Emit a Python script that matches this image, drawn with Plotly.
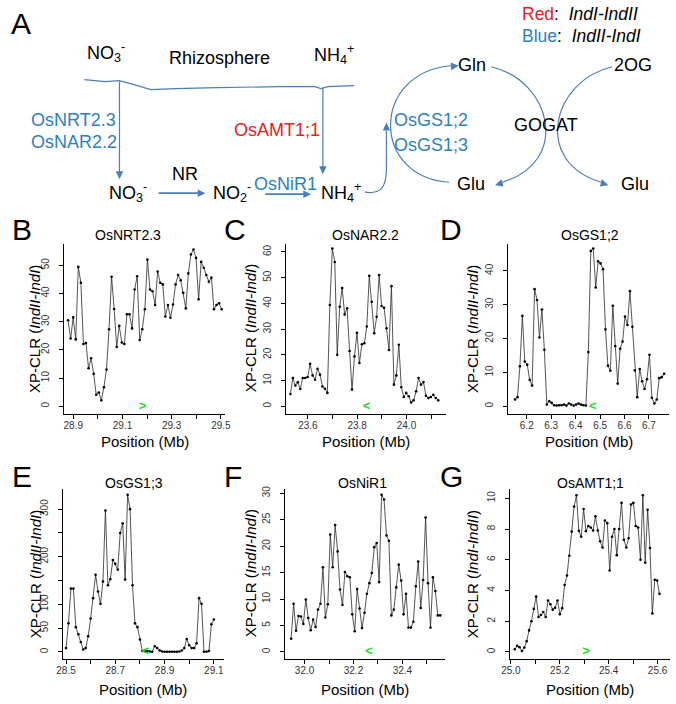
import plotly.graph_objects as go

W, H = 676, 704
FONT = "Liberation Sans, Arial, sans-serif"

# ---------------- data ----------------
B_title = "OsNRT2.3"
B_x_start, B_x_step = 28.879, 0.0104
B_y = [30.5, 24.0, 31.5, 23.7, 49.4, 43.8, 22.1, 22.4, 13.5, 17.0, 11.5, 4.1, 4.9, 2.1, 6.7,
       13.0, 27.3, 45.9, 34.5, 21.0, 28.5, 22.6, 22.1, 32.6, 32.6, 27.6, 41.4, 46.1, 23.5, 27.3,
       34.4, 52.0, 41.4, 40.8, 35.9, 47.8, 43.8, 43.2, 31.8, 35.9, 31.4, 36.1, 43.2, 46.5, 44.7,
       40.2, 34.7, 47.1, 53.8, 55.6, 52.6, 37.9, 51.2, 49.1, 46.5, 44.1, 45.6, 34.4, 35.9, 36.5, 34.4]
B_gene_pos, B_gene_mark = 29.182, ">"
B_xticks = [28.9, 29.0, 29.1, 29.2, 29.3, 29.4, 29.5]
B_xticklabels = ["28.9", "", "29.1", "", "29.3", "", "29.5"]
B_yticks = [0, 10, 20, 30, 40, 50]
B_yticklabels = ["0", "10", "20", "30", "40", "50"]

C_title = "OsNAR2.2"
C_x_start, C_x_step = 23.529, 0.01
C_y = [4.8, 11.0, 8.1, 9.3, 6.7, 11.0, 11.0, 11.4, 16.5, 12.0, 10.3, 14.6, 12.3, 7.7, 6.8, 5.2,
       39.4, 61.3, 56.1, 20.0, 38.7, 46.0, 35.7, 38.1, 21.5, 6.5, 19.4, 28.6, 16.8, 24.1, 24.5,
       31.0, 50.7, 40.6, 28.4, 34.8, 51.0, 39.0, 38.3, 30.3, 21.9, 46.7, 8.4, 12.0, 23.9, 7.4,
       3.6, 5.2, 3.9, 1.5, 2.3, 5.8, 11.0, 8.4, 9.4, 4.1, 3.2, 3.6, 4.5, 3.2, 2.3]
C_gene_pos, C_gene_mark = 23.838, "<"
C_xticks = [23.6, 23.7, 23.8, 23.9, 24.0, 24.1]
C_xticklabels = ["23.6", "", "23.8", "", "24.0", ""]
C_yticks = [0, 10, 20, 30, 40, 50, 60]
C_yticklabels = ["0", "10", "20", "30", "40", "50", "60"]

D_title = "OsGS1;2"
D_x_start, D_x_step = 6.152, 0.01
D_y = [2.0, 2.7, 11.8, 26.7, 13.2, 12.3, 7.8, 6.1, 34.6, 31.4, 20.3, 28.6, 16.7, 0.5, 1.5, 1.0,
       0.3, 0.2, 0.3, 0.3, 0.5, 0.2, 0.8, 0.5, 0.2, 0.5, 0.8, 0.5, 0.3, 0.2, 16.0, 45.9, 46.6,
       35.1, 42.8, 42.2, 40.5, 22.7, 12.0, 10.5, 29.7, 17.8, 6.7, 17.0, 19.1, 26.5, 24.0, 34.0,
       23.5, 10.6, 2.7, 11.0, 7.4, 5.1, 8.0, 15.2, 2.5, 0.8, 2.0, 8.3, 8.6, 9.6]
D_gene_pos, D_gene_mark = 6.47, "<"
D_xticks = [6.2, 6.3, 6.4, 6.5, 6.6, 6.7]
D_xticklabels = ["6.2", "6.3", "6.4", "6.5", "6.6", "6.7"]
D_yticks = [0, 10, 20, 30, 40]
D_yticklabels = ["0", "10", "20", "30", "40"]

E_title = "OsGS1;3"
E_x_start, E_x_step = 28.5, 0.01
E_y = [8, 60, 133, 133, 52, 37, 21, 5, 8, 33, 70, 113, 162, 127, 101, 148, 297, 140, 153, 193,
       185, 173, 250, 270, 152, 330, 300, 140, 60, 52, 26, 2, 1, 2, 1, 0.5, 12, 8, 3, 1,
       0.5, 0.3, 0.3, 0.3, 0.3, 0.5, 1, 3, 8, 27, 14, 8, 8, 18, 113, 101, 0.5, 0.5, 2, 58, 68]
E_gene_pos, E_gene_mark = 28.822, "<"
E_xticks = [28.5, 28.6, 28.7, 28.8, 28.9, 29.0, 29.1]
E_xticklabels = ["28.5", "", "28.7", "", "28.9", "", "29.1"]
E_yticks = [0, 50, 100, 150, 200, 250, 300]
E_yticklabels = ["0", "50", "100", "", "200", "", "300"]

F_title = "OsNiR1"
F_x_start, F_x_step = 31.945, 0.01
F_y = [2.5, 9.1, 4.0, 6.8, 6.7, 5.3, 9.9, 6.4, 4.1, 6.1, 4.7, 8.0, 9.1, 16.0, 6.5, 9.0, 22.2,
       16.0, 24.0, 19.0, 11.8, 8.9, 15.1, 14.3, 14.1, 7.1, 3.9, 11.9, 8.2, 4.5, 7.4, 11.0, 13.0,
       14.9, 19.8, 20.6, 13.2, 29.7, 28.8, 22.0, 21.0, 6.9, 8.0, 12.2, 16.5, 13.5, 7.1, 11.0,
       4.6, 4.6, 5.7, 12.4, 17.1, 8.3, 13.6, 25.4, 13.0, 4.6, 14.1, 11.5, 6.9, 6.9]
F_gene_pos, F_gene_mark = 32.263, "<"
F_xticks = [32.0, 32.1, 32.2, 32.3, 32.4, 32.5]
F_xticklabels = ["32.0", "", "32.2", "", "32.4", ""]
F_yticks = [0, 5, 10, 15, 20, 25, 30]
F_yticklabels = ["0", "5", "10", "15", "20", "25", "30"]

G_title = "OsAMT1;1"
G_x_start, G_x_step = 25.016, 0.0097
G_y = [0.17, 0.4, 0.3, 0.06, 0.28, 0.7, 1.4, 2.0, 2.8, 3.6, 2.27, 2.4, 2.6, 2.27, 3.35, 3.1,
       2.75, 2.87, 3.35, 2.45, 2.85, 4.36, 4.97, 6.26, 7.84, 9.46, 10.2, 7.88, 7.5, 9.3, 7.86,
       8.2, 8.1, 7.9, 8.83, 7.9, 7.2, 6.8, 8.55, 8.38, 5.3, 7.5, 8.0, 6.3, 8.0, 9.7, 7.3, 6.8,
       7.4, 9.6, 9.7, 8.2, 8.1, 6.0, 10.2, 5.8, 9.25, 6.76, 2.5, 4.7, 4.65, 3.78]
G_gene_pos, G_gene_mark = 25.307, ">"
G_xticks = [25.0, 25.1, 25.2, 25.3, 25.4, 25.5, 25.6]
G_xticklabels = ["25.0", "", "25.2", "", "25.4", "", "25.6"]
G_yticks = [0, 2, 4, 6, 8, 10]
G_yticklabels = ["0", "2", "4", "6", "8", "10"]

YLAB_21 = "XP-CLR (<i>IndII-IndI</i>)"
YLAB_12 = "XP-CLR (<i>IndI-IndII</i>)"
XLAB = "Position (Mb)"

# ---------------- layout geometry (pixels) ----------------
panels = [
    dict(letter="B", title=B_title, start=B_x_start, step=B_x_step, y=B_y, gpos=B_gene_pos, gmark=B_gene_mark,
         xt=B_xticks, xl=B_xticklabels, yt=B_yticks, yl=B_yticklabels, ylab=YLAB_21,
         l=56.7, r=221.0, t=241.7, b=412.3, xref=(28.9, 65.7), xs=251.7, y0=405.0, ys=2.833,
         tpos=(122, 233), lpos=(13, 227), ylx=26),
    dict(letter="C", title=C_title, start=C_x_start, step=C_x_step, y=C_y, gpos=C_gene_pos, gmark=C_gene_mark,
         xt=C_xticks, xl=C_xticklabels, yt=C_yticks, yl=C_yticklabels, ylab=YLAB_21,
         l=283.3, r=447.0, t=241.7, b=412.3, xref=(23.6, 305.7), xs=252.0, y0=405.0, ys=2.583,
         tpos=(365, 233), lpos=(231, 227), ylx=247),
    dict(letter="D", title=D_title, start=D_x_start, step=D_x_step, y=D_y, gpos=D_gene_pos, gmark=D_gene_mark,
         xt=D_xticks, xl=D_xticklabels, yt=D_yticks, yl=D_yticklabels, ylab=YLAB_21,
         l=510.7, r=675.0, t=241.7, b=412.3, xref=(6.2, 529.5), xs=250.0, y0=405.0, ys=3.4,
         tpos=(594, 233), lpos=(452, 227), ylx=474),
    dict(letter="E", title=E_title, start=E_x_start, step=E_x_step, y=E_y, gpos=E_gene_pos, gmark=E_gene_mark,
         xt=E_xticks, xl=E_xticklabels, yt=E_yticks, yl=E_yticklabels, ylab=YLAB_21,
         l=55.5, r=219.5, t=488.0, b=658.5, xref=(28.5, 58.3), xs=252.0, y0=651.7, ys=0.478,
         tpos=(128, 482), lpos=(13, 476), ylx=27),
    dict(letter="F", title=F_title, start=F_x_start, step=F_x_step, y=F_y, gpos=F_gene_pos, gmark=F_gene_mark,
         xt=F_xticks, xl=F_xticklabels, yt=F_yticks, yl=F_yticklabels, ylab=YLAB_21,
         l=282.3, r=446.3, t=488.0, b=658.5, xref=(32.0, 302.3), xs=250.0, y0=651.7, ys=5.313,
         tpos=(362, 482), lpos=(229, 476), ylx=247),
    dict(letter="G", title=G_title, start=G_x_start, step=G_x_step, y=G_y, gpos=G_gene_pos, gmark=G_gene_mark,
         xt=G_xticks, xl=G_xticklabels, yt=G_yticks, yl=G_yticklabels, ylab=YLAB_12,
         l=512.3, r=675.5, t=488.0, b=658.5, xref=(25.0, 513.3), xs=250.0, y0=651.7, ys=15.43,
         tpos=(595, 482), lpos=(453, 476), ylx=474),
]

fig = go.Figure()
annotations = []
shapes = []


def T(text, x, y, size=17, color="black", xanchor="center", yanchor="middle", angle=0):
    annotations.append(dict(text=text, x=x / W, y=1 - y / H, xref="paper", yref="paper",
                            showarrow=False, xanchor=xanchor, yanchor=yanchor, textangle=angle,
                            font=dict(family=FONT, size=size, color=color)))


layout_axes = {}
for i, p in enumerate(panels, start=1):
    xa = "x" if i == 1 else f"x{i}"
    ya = "y" if i == 1 else f"y{i}"
    xv = [round(p["start"] + k * p["step"], 4) for k in range(len(p["y"]))]
    fig.add_trace(go.Scatter(x=xv, y=p["y"], mode="lines+markers", xaxis=xa, yaxis=ya,
                             line=dict(color="#2a2a2a", width=0.8),
                             marker=dict(size=2.6, color="black"),
                             showlegend=False, hoverinfo="skip", cliponaxis=False))
    fig.add_trace(go.Scatter(x=[p["gpos"]], y=[0], mode="text", text=[p["gmark"]],
                             textposition="middle center", xaxis=xa, yaxis=ya,
                             textfont=dict(family=FONT, size=13, color="#22dd22", weight="bold"),
                             showlegend=False, hoverinfo="skip", cliponaxis=False))
    xr0 = p["xref"][0] + (p["l"] - p["xref"][1]) / p["xs"]
    xr1 = p["xref"][0] + (p["r"] - p["xref"][1]) / p["xs"]
    yr0 = (p["y0"] - p["b"]) / p["ys"]
    yr1 = (p["y0"] - p["t"]) / p["ys"]
    common = dict(showline=True, linecolor="black", linewidth=1, ticks="outside", ticklen=4,
                  tickwidth=1, tickcolor="black", showgrid=False, zeroline=False,
                  tickfont=dict(family=FONT, size=10, color="#333333"), fixedrange=True,
                  tickmode="array")
    layout_axes["xaxis" if i == 1 else f"xaxis{i}"] = dict(
        domain=[p["l"] / W, p["r"] / W], range=[xr0, xr1], anchor=ya,
        tickvals=p["xt"], ticktext=p["xl"], ticklabelstandoff=-2, **common)
    layout_axes["yaxis" if i == 1 else f"yaxis{i}"] = dict(
        domain=[1 - p["b"] / H, 1 - p["t"] / H], range=[yr0, yr1], anchor=xa,
        tickvals=p["yt"], ticktext=p["yl"], tickangle=-90, ticklabelstandoff=6, **common)
    # texts
    T(p["title"], p["tpos"][0], p["tpos"][1], size=14)
    T(p["letter"], p["lpos"][0], p["lpos"][1], size=30)
    T(p["ylab"], p["ylx"], (p["t"] + p["b"]) / 2, size=15, angle=-90)
    T(XLAB, (p["l"] + p["r"]) / 2, p["b"] + (28 if p["b"] < 500 else 31), size=15)

# ---------------- panel A diagram ----------------
LINE = "#4a7ebb"
BLUE = "#2e7fc1"
RED = "#e8211c"


def P(x, y):
    return f"{x / W:.5f},{1 - y / H:.5f}"


def add_path(d, width=1.2):
    shapes.append(dict(type="path", xref="paper", yref="paper", path=d,
                       line=dict(color=LINE, width=width)))


def arrowhead(tip, d, L=8, w=3.8):
    dx, dy = d
    n = (dx ** 2 + dy ** 2) ** 0.5
    dx, dy = dx / n, dy / n
    bx, by = tip[0] - L * dx, tip[1] - L * dy
    lx, ly = bx - w * dy, by + w * dx
    rx, ry = bx + w * dy, by - w * dx
    shapes.append(dict(type="path", xref="paper", yref="paper",
                       path=f"M {P(*tip)} L {P(lx, ly)} L {P(rx, ry)} Z",
                       fillcolor=LINE, line=dict(width=0)))


# membrane
memb = [(77, 77), (98, 79), (113, 78), (128, 82), (145, 87), (170, 86), (213, 85), (277, 84),
        (313, 84), (319, 86), (326, 84), (353, 83)]
add_path("M " + " L ".join(P(x, y) for x, y in memb))
# vertical uptake arrows
add_path(f"M {P(113, 79)} L {P(113, 170)}")
arrowhead((113, 177), (0, 1))
add_path(f"M {P(321, 85)} L {P(321, 165)}")
arrowhead((321, 172), (0, 1))
# horizontal arrows
add_path(f"M {P(153, 191)} L {P(194, 191)}", width=1.8)
arrowhead((201, 191), (1, 0))
add_path(f"M {P(262, 192)} L {P(302, 192)}", width=1.8)
arrowhead((309, 192), (1, 0))
# NH4+ into GS
add_path(f"M {P(364, 190)} C {P(380, 192)} {P(386, 186)} {P(386, 166)} L {P(386, 128)}")
arrowhead((386, 120), (0, -1))
# GS arc (Glu -> Gln)
add_path(f"M {P(450, 180)} C {P(370, 175)} {P(370, 70)} {P(452, 63)}")
arrowhead((460, 63), (1, -0.08))
# GOGAT arcs
add_path(f"M {P(493, 64)} C {P(555, 78)} {P(575, 160)} {P(504, 180)}")
arrowhead((497, 183), (-75, 22))
add_path(f"M {P(617, 64)} C {P(555, 78)} {P(535, 160)} {P(606, 180)}")
arrowhead((613, 183), (75, 22))

# diagram texts
DS = 18
T("A", 12, 21, size=30)
T(f"<span style='color:{RED}'>Red</span>:  <i>IndI-IndII</i>", 523, 11, size=17.5, xanchor="left")
T(f"<span style='color:{BLUE}'>Blue</span>:  <i>IndII-IndI</i>", 523, 33, size=17.5, xanchor="left")
T("NO<sub>3</sub><sup>-</sup>", 99, 50, size=DS)
T("Rhizosphere", 215, 55, size=DS)
T("NH<sub>4</sub><sup>+</sup>", 332, 52, size=DS)
T("OsNRT2.3", 66, 118, size=DS, color=BLUE)
T("OsNAR2.2", 66, 140, size=DS, color=BLUE)
T("OsAMT1;1", 274, 128, size=DS, color=RED)
T("NO<sub>3</sub><sup>-</sup>", 122, 190, size=DS)
T("NR", 180, 172, size=DS)
T("NO<sub>2</sub><sup>-</sup>", 228, 190, size=DS)
T("OsNiR1", 283, 182, size=DS, color=BLUE)
T("NH<sub>4</sub><sup>+</sup>", 340, 190, size=DS)
T("OsGS1;2", 432, 118, size=DS, color=BLUE)
T("OsGS1;3", 432, 143, size=DS, color=BLUE)
T("Gln", 474, 62, size=DS)
T("GOGAT", 549, 123, size=DS)
T("2OG", 638, 62, size=DS)
T("Glu", 472, 182, size=DS)
T("Glu", 640, 182, size=DS)

fig.update_layout(width=W, height=H, margin=dict(l=0, r=0, t=0, b=0),
                  paper_bgcolor="white", plot_bgcolor="rgba(0,0,0,0)",
                  annotations=annotations, shapes=shapes, showlegend=False,
                  font=dict(family=FONT), **layout_axes)

fig.write_html("out.html", config={"displayModeBar": False, "staticPlot": True},
               post_script="document.body.style.margin='0px';document.body.style.overflow='hidden';")
